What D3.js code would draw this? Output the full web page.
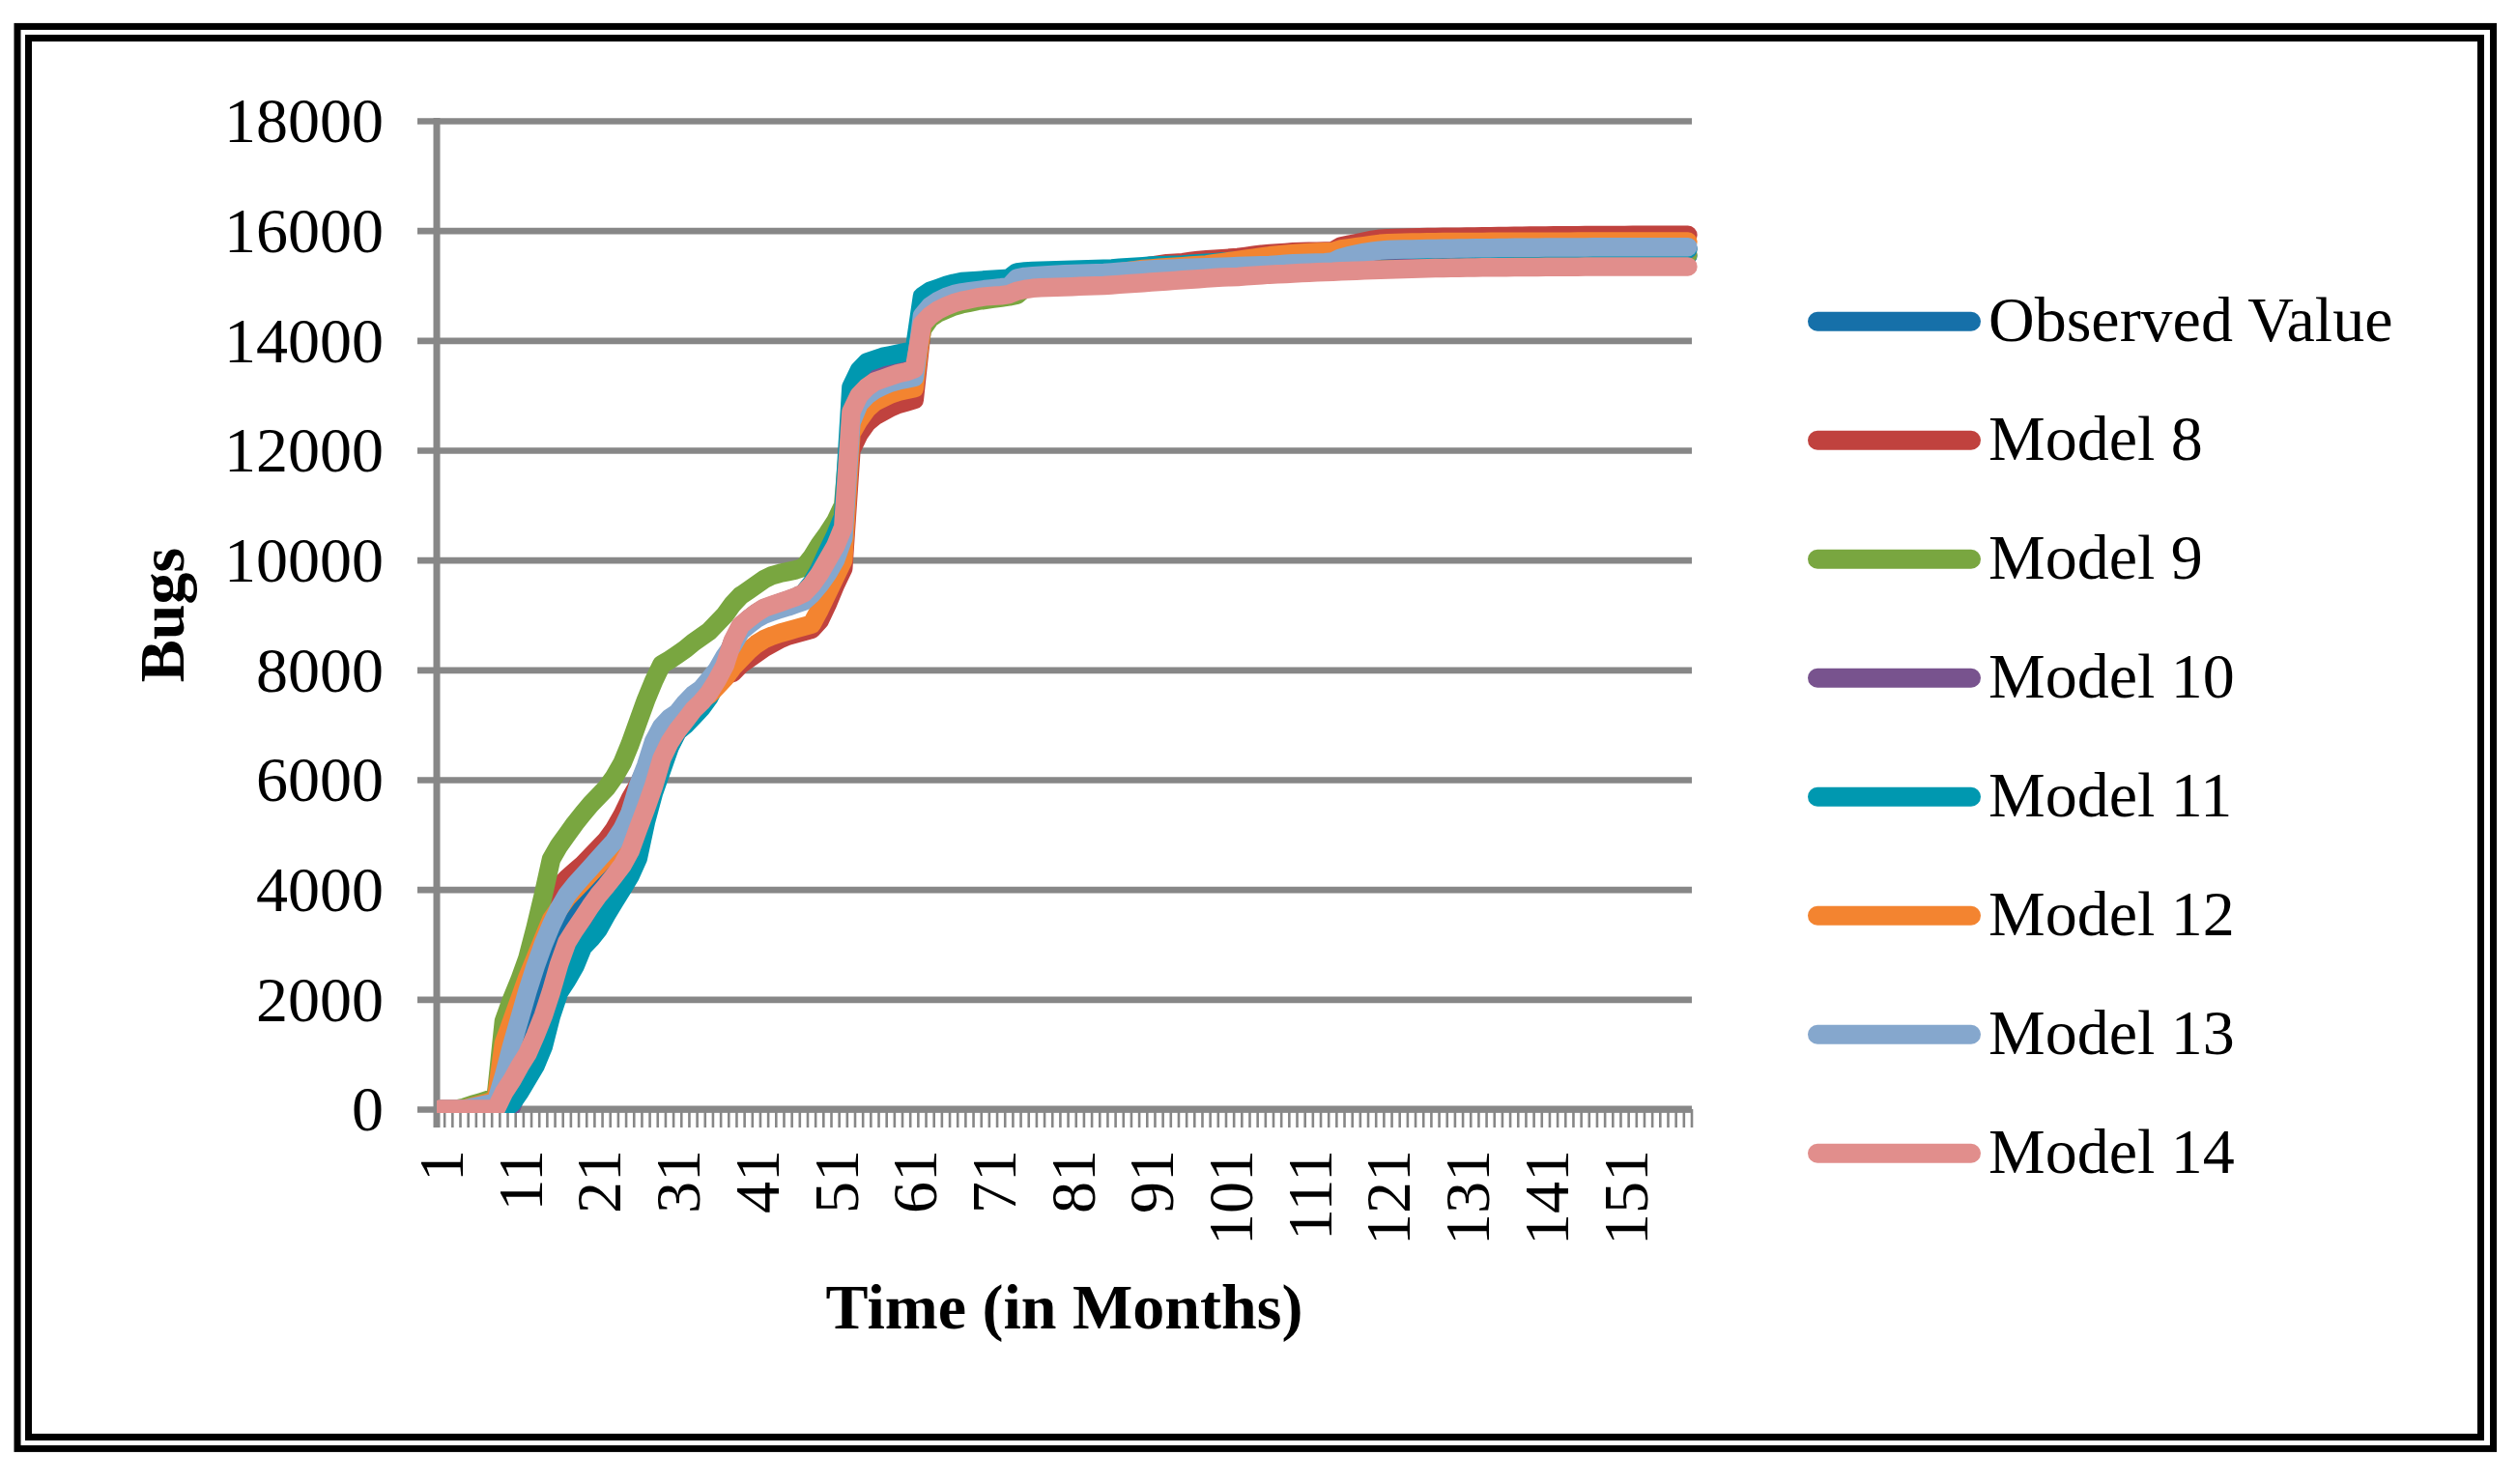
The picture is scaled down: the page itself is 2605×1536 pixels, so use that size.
<!DOCTYPE html>
<html>
<head>
<meta charset="utf-8">
<script src="https://cdnjs.cloudflare.com/ajax/libs/d3/7.8.5/d3.min.js"></script>
<style>
  html, body { margin: 0; padding: 0; background: #ffffff; }
  svg { display: block; }
  text { font-family: "Liberation Serif", "Times New Roman", serif; fill: #000; }
</style>
</head>
<body>
<svg id="chart" width="2605" height="1536"></svg>
<script>
// ---------------- DATA ----------------
const months = d3.range(1, 160); // 1..159
const xTickLabels = [1, 11, 21, 31, 41, 51, 61, 71, 81, 91, 101, 111, 121, 131, 141, 151];
const yTicks = [0, 2000, 4000, 6000, 8000, 10000, 12000, 14000, 16000, 18000];
const seriesNames = ["Observed Value", "Model 8", "Model 9", "Model 10", "Model 11", "Model 12", "Model 13", "Model 14"];
const seriesColors = ["#1670a9", "#c0423e", "#79a640", "#78538e", "#0098b0", "#f38430", "#85a7cd", "#e18e8c"];

const observed = [
  0,0,0,0,0,0,0,0,350,700,
  1100,1500,1900,2300,2700,3050,3350,3600,3850,4050,
  4250,4450,4650,4850,5150,5600,6000,6400,6700,6900,
  7050,7200,7350,7500,7700,7900,8150,8500,8780,8900,
  9000,9080,9130,9180,9220,9270,9330,9480,9680,9900,
  10150,10500,12600,12950,13100,13200,13250,13300,13340,13370,
  13400,14350,14520,14620,14700,14750,14780,14810,14840,14860,
  14870,14880,14900,15000,15040,15060,15070,15080,15090,15100,
  15110,15120,15130,15140,15150,15160,15170,15180,15190,15200,
  15210,15220,15230,15240,15250,15260,15270,15280,15290,15300,
  15310,15320,15330,15340,15350,15360,15370,15380,15390,15400,
  15410,15420,15430,15440,15470,15480,15490,15500,15510,15520,
  15522,15524,15526,15528,15530,15531,15532,15533,15534,15535,
  15535,15536,15536,15537,15537,15538,15538,15538,15539,15539,
  15539,15540,15540,15540,15540,15540,15540,15540,15540,15540,
  15540,15540,15540,15540,15540,15540,15540,15540,15540
];
const model8 = [
  0,0,0,0,30,60,100,150,1400,1800,
  2200,2600,3000,3400,3800,4050,4200,4330,4450,4600,
  4750,4900,5100,5350,5650,5900,6200,6550,6800,6950,
  7080,7200,7330,7460,7600,7750,7900,7950,8100,8200,
  8300,8400,8480,8560,8620,8660,8700,8740,8900,9200,
  9550,9850,12000,12300,12500,12620,12700,12780,12840,12880,
  12920,14250,14450,14600,14700,14760,14800,14830,14860,14880,
  14900,14920,14940,15050,15080,15100,15120,15140,15160,15180,
  15200,15220,15240,15260,15280,15290,15300,15310,15320,15330,
  15360,15380,15400,15410,15420,15440,15460,15470,15480,15490,
  15500,15510,15530,15550,15570,15580,15590,15600,15610,15615,
  15620,15622,15624,15626,15712,15740,15770,15800,15830,15850,
  15858,15862,15866,15870,15874,15878,15880,15882,15884,15886,
  15888,15890,15892,15894,15896,15898,15900,15902,15904,15906,
  15908,15909,15910,15911,15912,15913,15914,15915,15916,15917,
  15917,15918,15918,15918,15918,15918,15918,15918,15918
];
const model9 = [
  0,0,0,30,80,120,170,220,1600,2000,
  2350,2750,3300,3900,4550,4800,5000,5200,5380,5550,
  5700,5850,6050,6300,6650,7050,7450,7800,8100,8180,
  8280,8380,8500,8600,8700,8850,9000,9200,9350,9450,
  9550,9650,9720,9760,9790,9820,9870,10050,10280,10480,
  10700,11000,12700,12900,13050,13150,13200,13250,13300,13330,
  13380,14200,14400,14500,14560,14620,14660,14690,14720,14740,
  14760,14780,14800,14830,14950,14980,15000,15010,15020,15030,
  15040,15050,15060,15070,15080,15090,15100,15110,15120,15130,
  15140,15150,15160,15170,15180,15190,15200,15210,15220,15230,
  15240,15250,15260,15270,15280,15290,15300,15310,15320,15330,
  15340,15350,15360,15370,15400,15420,15440,15460,15470,15480,
  15490,15495,15500,15505,15510,15515,15520,15522,15524,15526,
  15528,15530,15532,15534,15536,15538,15540,15542,15544,15546,
  15548,15550,15552,15553,15554,15555,15556,15557,15558,15559,
  15560,15560,15560,15560,15560,15560,15560,15560,15560
];
const model10 = [
  0,0,0,0,0,0,0,0,0,50,
  450,700,950,1300,1850,2350,2650,2900,3200,3350,
  3550,3780,3990,4200,4450,4800,5350,5820,6250,6620,
  6880,7030,7200,7350,7540,7790,8060,8510,8790,8920,
  9030,9120,9170,9220,9270,9320,9400,9560,9790,10080,
  10350,10700,12900,13200,13350,13420,13470,13520,13560,13600,
  13640,14550,14700,14780,14830,14870,14900,14920,14940,14960,
  14970,14980,14990,15100,15120,15130,15140,15150,15160,15170,
  15180,15190,15200,15210,15220,15230,15240,15250,15260,15270,
  15280,15290,15300,15310,15320,15330,15340,15350,15360,15370,
  15380,15390,15400,15410,15420,15430,15440,15450,15460,15470,
  15480,15490,15500,15510,15560,15580,15600,15610,15620,15630,
  15635,15637,15639,15640,15642,15644,15645,15646,15647,15648,
  15649,15650,15651,15652,15653,15654,15655,15655,15656,15656,
  15657,15657,15658,15658,15659,15659,15660,15660,15660,15660,
  15660,15660,15660,15660,15660,15660,15660,15660,15660
];
const model11 = [
  0,0,0,0,0,0,0,0,0,100,
  310,550,790,1140,1700,2130,2350,2600,2950,3100,
  3280,3540,3780,4010,4250,4570,5240,5770,6180,6590,
  6880,7000,7150,7300,7500,7780,8050,8500,8780,8920,
  9030,9120,9170,9220,9270,9320,9400,9580,9830,10150,
  10450,10800,13150,13450,13600,13650,13700,13730,13760,13790,
  13820,14800,14900,14950,15000,15040,15070,15080,15090,15100,
  15110,15120,15130,15240,15255,15265,15270,15272,15275,15280,
  15285,15290,15295,15300,15305,15310,15320,15330,15340,15350,
  15360,15365,15370,15375,15380,15390,15400,15410,15420,15430,
  15440,15450,15460,15470,15480,15490,15500,15510,15520,15530,
  15540,15550,15555,15560,15600,15610,15620,15630,15640,15645,
  15650,15652,15654,15655,15656,15657,15658,15659,15660,15660,
  15661,15661,15662,15662,15662,15663,15663,15663,15664,15664,
  15664,15664,15665,15665,15665,15665,15665,15665,15665,15665,
  15666,15666,15666,15666,15667,15667,15667,15667,15667
];
const model12 = [
  0,0,0,0,40,80,120,160,1200,1600,
  2000,2400,2750,3100,3450,3650,3850,4000,4150,4300,
  4450,4600,4800,5050,5400,5800,6200,6500,6700,6850,
  7000,7150,7300,7450,7550,7700,7850,8050,8200,8350,
  8470,8560,8620,8670,8710,8750,8790,8830,9100,9400,
  9700,10000,12300,12550,12750,12880,12950,13020,13070,13100,
  13130,14300,14480,14600,14680,14740,14780,14810,14840,14860,
  14880,14900,14920,15050,15080,15100,15110,15120,15130,15140,
  15150,15160,15170,15180,15200,15220,15240,15260,15280,15300,
  15310,15320,15330,15340,15350,15360,15370,15380,15400,15420,
  15440,15460,15480,15500,15520,15540,15555,15570,15580,15590,
  15600,15605,15610,15615,15660,15680,15700,15720,15740,15760,
  15770,15775,15780,15782,15784,15786,15788,15790,15790,15792,
  15792,15793,15793,15794,15794,15795,15795,15796,15796,15797,
  15797,15798,15798,15798,15799,15799,15800,15800,15800,15800,
  15800,15800,15800,15800,15800,15800,15800,15800,15800
];
const model13 = [
  0,0,0,0,30,60,90,120,600,1150,
  1650,2150,2600,3000,3350,3650,3900,4080,4240,4400,
  4560,4720,4880,5100,5400,5880,6250,6700,6970,7120,
  7220,7400,7550,7650,7820,8000,8250,8450,8700,8820,
  8930,9010,9060,9110,9150,9200,9250,9380,9550,9750,
  10000,10400,12500,12850,13000,13100,13170,13230,13270,13300,
  13330,14450,14620,14720,14790,14840,14870,14890,14910,14930,
  14945,14960,14980,15130,15160,15170,15180,15190,15200,15205,
  15210,15215,15220,15225,15230,15240,15250,15260,15270,15280,
  15290,15300,15305,15310,15315,15320,15325,15330,15335,15340,
  15345,15350,15355,15360,15365,15370,15380,15390,15400,15405,
  15410,15415,15420,15430,15500,15540,15570,15600,15620,15640,
  15650,15655,15660,15662,15665,15668,15670,15672,15674,15676,
  15678,15680,15682,15684,15686,15688,15690,15690,15692,15692,
  15694,15694,15695,15696,15696,15697,15698,15698,15699,15699,
  15700,15700,15700,15700,15700,15700,15700,15700,15700
];
const model14 = [
  0,0,0,0,0,0,0,0,300,520,
  780,1010,1340,1700,2140,2640,3040,3270,3480,3700,
  3900,4070,4250,4440,4700,5100,5480,5890,6380,6680,
  6900,7080,7270,7410,7580,7810,8080,8530,8810,8930,
  9040,9130,9180,9230,9280,9330,9400,9550,9750,10000,
  10250,10600,12700,13000,13150,13250,13300,13350,13400,13430,
  13480,14300,14450,14550,14620,14680,14720,14750,14780,14800,
  14810,14820,14840,14900,14930,14950,14960,14965,14970,14975,
  14980,14985,14990,14995,15000,15010,15020,15030,15040,15050,
  15060,15070,15080,15090,15100,15110,15120,15130,15140,15150,
  15155,15160,15170,15180,15190,15200,15205,15210,15220,15230,
  15235,15240,15245,15250,15260,15265,15270,15275,15280,15285,
  15290,15295,15300,15305,15310,15312,15315,15318,15320,15322,
  15324,15326,15328,15330,15331,15332,15333,15334,15335,15336,
  15337,15338,15339,15340,15340,15341,15341,15342,15342,15343,
  15343,15343,15344,15344,15344,15345,15345,15345,15345
];
const seriesValues = [observed, model8, model9, model10, model11, model12, model13, model14];

// ---------------- CHART ----------------
const svg = d3.select("#chart");
const W = 2605, H = 1536;
svg.append("rect").attr("width", W).attr("height", H).attr("fill", "#fff");

// double frame
svg.append("rect").attr("x", 18).attr("y", 27.4).attr("width", 2562.5).attr("height", 1472)
  .attr("fill", "none").attr("stroke", "#000").attr("stroke-width", 7);
svg.append("rect").attr("x", 29.5).attr("y", 39.4).attr("width", 2538).attr("height", 1448)
  .attr("fill", "none").attr("stroke", "#000").attr("stroke-width", 7);

const plotL = 452, plotR = 1751, plotT = 125, plotB = 1148;
const x = d3.scaleLinear().domain([0.5, months.length + 0.5]).range([plotL, plotR]);
const y = d3.scaleLinear().domain([0, 18000]).range([plotB, plotT]);
const gridColor = "#878787";

// y gridlines + ticks via axis
const yAxis = d3.axisLeft(y).tickValues(yTicks).tickFormat(d3.format("d"))
  .tickSize(-(plotR - plotL)).tickSizeOuter(0);
const gy = svg.append("g").attr("transform", `translate(${plotL},0)`).call(yAxis);
gy.select(".domain").remove();
gy.selectAll(".tick line").attr("stroke", gridColor).attr("stroke-width", 6.7).attr("x1", -20);
gy.selectAll(".tick text").attr("font-size", 66).attr("font-family", "Liberation Serif, Times New Roman, serif")
  .attr("fill", "#000").attr("x", -55).attr("dy", "0.33em");

// x axis tick marks (every category boundary)
const bounds = d3.range(0, months.length + 1).map(i => i + 0.5);
svg.append("g").selectAll("line").data(bounds).join("line")
  .attr("x1", d => x(d)).attr("x2", d => x(d))
  .attr("y1", plotB).attr("y2", plotB + 19)
  .attr("stroke", gridColor).attr("stroke-width", 2.6);

// y axis line
svg.append("line").attr("x1", plotL).attr("x2", plotL).attr("y1", plotT - 3).attr("y2", plotB + 19)
  .attr("stroke", gridColor).attr("stroke-width", 7);
// x axis line
svg.append("line").attr("x1", plotL).attr("x2", plotR).attr("y1", plotB).attr("y2", plotB)
  .attr("stroke", gridColor).attr("stroke-width", 7);

// x tick labels
svg.append("g").selectAll("text").data(xTickLabels).join("text")
  .attr("transform", d => `translate(${x(d) + 23},1190) rotate(-90)`)
  .attr("text-anchor", "end")
  .attr("font-size", 66)
  .text(d => d);

// clip for lines
svg.append("clipPath").attr("id", "clip").append("rect")
  .attr("x", plotL).attr("y", 0).attr("width", 1400).attr("height", plotB + 4);

const line = d3.line().x((d, i) => x(months[i])).y(d => y(d)).curve(d3.curveLinear);
const gl = svg.append("g").attr("clip-path", "url(#clip)");
seriesValues.forEach((vals, k) => {
  gl.append("path").datum(vals).attr("d", line)
    .attr("fill", "none").attr("stroke", seriesColors[k]).attr("stroke-width", 19.5)
    .attr("stroke-linejoin", "round").attr("stroke-linecap", "round");
});

// axis titles
svg.append("text").attr("x", (plotL + plotR) / 2).attr("y", 1375).attr("text-anchor", "middle")
  .attr("font-size", 66).attr("font-weight", "bold").text("Time (in Months)");
svg.append("text").attr("transform", `translate(190,${(plotT + plotB) / 2}) rotate(-90)`)
  .attr("text-anchor", "middle").attr("font-size", 66).attr("font-weight", "bold").text("Bugs");

// legend
const lg = svg.append("g");
seriesNames.forEach((name, k) => {
  const ly = 332.7 + k * 123;
  lg.append("line").attr("x1", 1881).attr("x2", 2040).attr("y1", ly).attr("y2", ly)
    .attr("stroke", seriesColors[k]).attr("stroke-width", 20).attr("stroke-linecap", "round");
  lg.append("text").attr("x", 2058).attr("y", ly + 20.5).attr("font-size", 66).text(name);
});
</script>
</body>
</html>
